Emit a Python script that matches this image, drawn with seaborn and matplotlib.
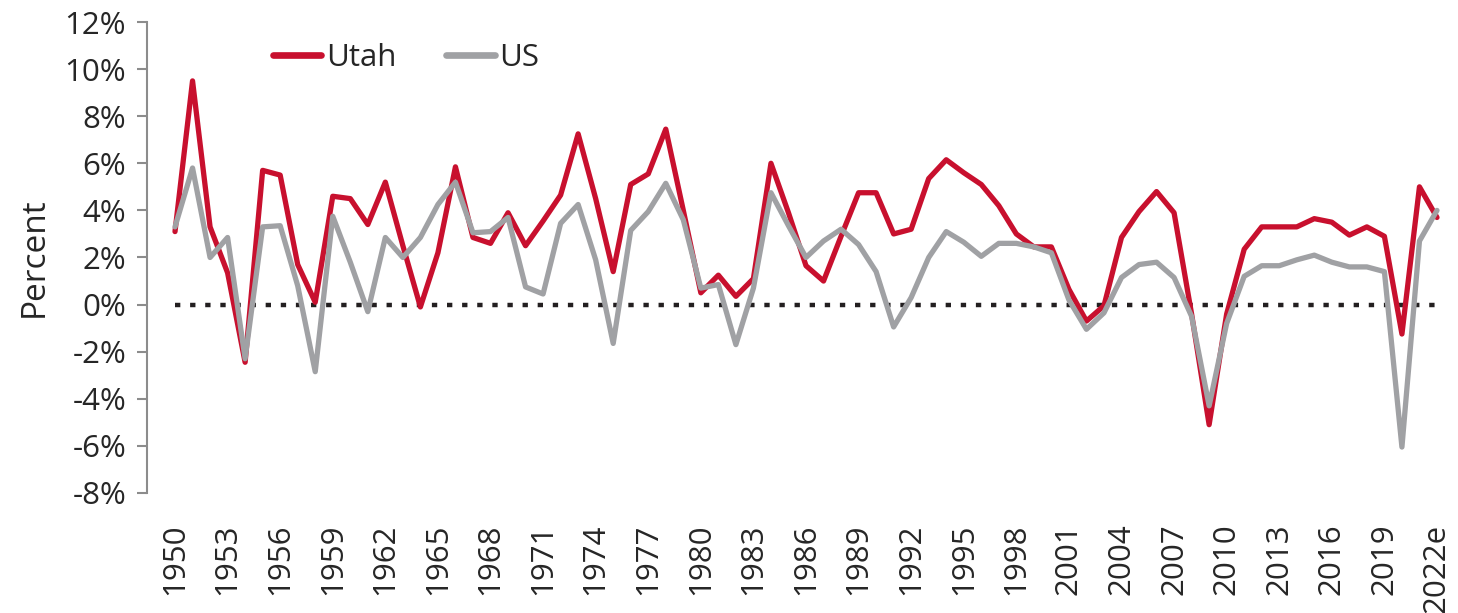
import numpy as np
import pandas as pd
import matplotlib
matplotlib.use("Agg")
import matplotlib.pyplot as plt
from matplotlib.lines import Line2D
import seaborn as sns

# ----------------------------- data -----------------------------------------
years = list(range(1950, 2023))

utah = [3.1, 9.5, 3.3, 1.35, -2.45, 5.7, 5.5, 1.7, 0.1, 4.6,
        4.5, 3.4, 5.2, 2.5, -0.1, 2.2, 5.85, 2.85, 2.6, 3.9,
        2.5, 3.55, 4.65, 7.25, 4.5, 1.4, 5.1, 5.55, 7.45, 4.0,
        0.5, 1.25, 0.35, 1.1, 6.0, 3.9, 1.65, 1.0, 2.9, 4.75,
        4.75, 3.0, 3.2, 5.35, 6.15, 5.6, 5.1, 4.2, 3.0, 2.45,
        2.45, 0.65, -0.7, -0.05, 2.85, 3.95, 4.8, 3.9, -0.4, -5.1,
        -0.4, 2.35, 3.3, 3.3, 3.3, 3.65, 3.5, 2.95, 3.3, 2.9,
        -1.25, 5.0, 3.7]

us = [3.3, 5.8, 2.0, 2.85, -2.3, 3.3, 3.35, 0.8, -2.85, 3.75,
      1.8, -0.3, 2.85, 2.0, 2.85, 4.25, 5.2, 3.05, 3.1, 3.7,
      0.75, 0.45, 3.45, 4.25, 1.9, -1.65, 3.15, 3.95, 5.15, 3.6,
      0.7, 0.85, -1.7, 0.7, 4.75, 3.35, 2.0, 2.7, 3.2, 2.55,
      1.4, -0.95, 0.3, 2.0, 3.1, 2.65, 2.05, 2.6, 2.6, 2.45,
      2.2, 0.2, -1.05, -0.35, 1.15, 1.7, 1.8, 1.15, -0.5, -4.3,
      -0.8, 1.2, 1.65, 1.65, 1.9, 2.1, 1.8, 1.6, 1.6, 1.4,
      -6.05, 2.7, 4.0]

tick_years = list(range(1950, 2023, 3))
tick_labels = [str(y) for y in tick_years[:-1]] + ["2022e"]

df = pd.DataFrame({
    "year": years * 2,
    "value": utah + us,
    "series": ["Utah"] * len(years) + ["US"] * len(years),
})

RED = "#C8102E"
GREY = "#A0A1A4"

# ----------------------------- plot -----------------------------------------
sns.set_style("white")
plt.rcParams["font.family"] = ["Open Sans", "DejaVu Sans"]

fig = plt.figure(figsize=(14.58, 6.13), dpi=100)
ax = fig.add_axes([0.1008, 0.1958, 0.892, 0.7683])

# dotted zero line
ax.plot(years, [0] * len(years), color="#231F20", linestyle=(0, (1.2, 2.2)),
        linewidth=3.2, zorder=1)

sns.lineplot(
    data=df, x="year", y="value", hue="series",
    palette={"Utah": RED, "US": GREY},
    linewidth=3.8, ax=ax, zorder=2, legend=False,
)
# US line sits on top of Utah in the original
for line in ax.get_lines():
    if line.get_color() == GREY:
        line.set_zorder(3)

ax.set_xlim(1948.4, 2022.6)
ax.set_ylim(-8, 12)
ax.set_yticks(range(-8, 13, 2))
ax.set_yticklabels([f"{v}%" for v in range(-8, 13, 2)])
ax.set_xticks(tick_years)
ax.set_xticklabels(tick_labels, rotation=90)

ax.set_xlabel("")
ax.set_ylabel("Percent", fontsize=24, labelpad=10)

for s in ["top", "right", "bottom"]:
    ax.spines[s].set_visible(False)
ax.spines["left"].set_color("#8C8C8C")
ax.spines["left"].set_linewidth(1.5)

ax.tick_params(axis="y", direction="out", length=7, width=1.5, color="#8C8C8C",
               labelsize=22.5, pad=8, left=True)
ax.tick_params(axis="x", length=0, labelsize=22.5, pad=22)

handles = [Line2D([0], [0], color=RED, linewidth=4.8, solid_capstyle="round"),
           Line2D([0], [0], color=GREY, linewidth=4.8, solid_capstyle="round")]
ax.legend(handles, ["Utah", "US"], loc="upper left", bbox_to_anchor=(0.075, 1.015),
          ncol=2, frameon=False, fontsize=22.5, handlelength=1.55,
          handletextpad=0.15, columnspacing=1.6)

plt.savefig("out.png", dpi=100)
plt.close()
